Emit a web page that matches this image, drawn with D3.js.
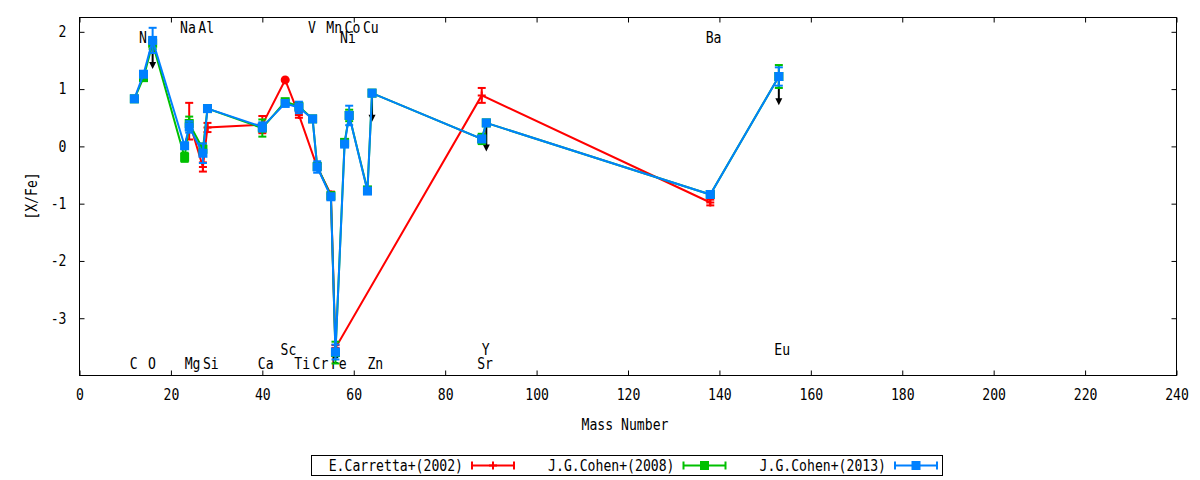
<!DOCTYPE html>
<html>
<head>
<meta charset="utf-8">
<script src="https://cdn.jsdelivr.net/npm/d3@7"></script>
<style>
  body { margin: 0; background: #fff; }
  svg text { font-family: "DejaVu Sans Mono", monospace; font-size: 15px; fill: #000; }
</style>
</head>
<body>
<div id="chart"></div>
<script>

// ---- data ----

// element labels: name, mass number, row value on the y axis
let labelNames  = ["C", "N", "O", "Na", "Mg", "Al", "Si", "Ca", "Sc", "Ti", "V", "Cr", "Mn", "Fe", "Ni", "Co", "Cu", "Zn", "Sr", "Y", "Ba", "Eu"];
let labelMasses = [12, 14, 16, 23, 24, 27, 28, 40, 45, 48, 51, 52, 55, 56, 58, 59, 63, 64, 88, 89, 138, 153];
let labelRows   = [-3.79, 1.9, -3.79, 2.07, -3.79, 2.07, -3.79, -3.79, -3.54, -3.79, 2.07, -3.79, 2.07, -3.79, 1.9, 2.07, 2.07, -3.79, -3.79, -3.54, 1.9, -3.54];

// E.Carretta+(2002)
let carrettaMass = [24, 27, 28, 40, 45, 48, 52, 55, 56, 88, 138];
let carrettaVal  = [0.44, -0.36, 0.33, 0.38, 1.16, 0.55, -0.36, -0.84, -3.52, 0.89, -0.98];
let carrettaErr  = [0.32, 0.08, 0.08, 0.15, 0, 0.05, 0.05, 0.05, 0.05, 0.13, 0.05];
let carrettaDots = [45];

// J.G.Cohen+(2008)
let cohen08Mass = [12, 14, 16, 23, 24, 27, 28, 40, 45, 48, 51, 52, 55, 56, 58, 59, 63, 64, 88, 89, 138, 153];
let cohen08Val  = [0.83, 1.2, 1.8, -0.19, 0.4, -0.05, 0.66, 0.32, 0.78, 0.7, 0.48, -0.35, -0.86, -3.6, 0.07, 0.54, -0.76, 0.93, 0.13, 0.41, -0.84, 1.22];
let cohen08Err  = [0.03, 0.05, 0.1, 0.08, 0.12, 0.1, 0.05, 0.15, 0.05, 0.05, 0.05, 0.05, 0.05, 0.19, 0.05, 0.1, 0.05, 0.05, 0.09, 0.05, 0.05, 0.2];

// J.G.Cohen+(2013)
let cohen13Mass = [12, 14, 16, 23, 24, 27, 28, 40, 45, 48, 51, 52, 55, 56, 58, 59, 63, 64, 88, 89, 138, 153];
let cohen13Val  = [0.83, 1.26, 1.85, 0.01, 0.34, -0.12, 0.66, 0.34, 0.75, 0.68, 0.48, -0.36, -0.88, -3.59, 0.04, 0.54, -0.78, 0.93, 0.13, 0.41, -0.84, 1.22];
let cohen13Err  = [0.03, 0.05, 0.22, 0.05, 0.1, 0.17, 0.05, 0.08, 0.05, 0.1, 0.05, 0.1, 0.05, 0.13, 0.05, 0.17, 0.05, 0.05, 0.05, 0.05, 0.05, 0.16];

// upper limits (arrows pointing down)
let limitMass = [16, 64, 89, 153];
let limitVal  = [1.85, 0.93, 0.41, 1.22];
let limitLen  = 0.5;

let seriesNames = ["E.Carretta+(2002)", "J.G.Cohen+(2008)", "J.G.Cohen+(2013)"];
let seriesColors = ["#ff0000", "#00c000", "#0080ff"];

let xTicks = [0, 20, 40, 60, 80, 100, 120, 140, 160, 180, 200, 220, 240];
let yTicks = [-3, -2, -1, 0, 1, 2];

// ---- layout ----

let W = 1200, H = 480;
let plot = {left: 79.5, top: 17.5, right: 1176.5, bottom: 375.5};
let charW = 7.9;

let svg = d3.select("#chart").append("svg")
    .attr("width", W)
    .attr("height", H);

let x = d3.scaleLinear().domain([0, 240]).range([plot.left, plot.right]);
let y = d3.scaleLinear().domain([-4, 2.25]).range([plot.bottom, plot.top]);

// squeeze text to gnuplot-ish narrow glyphs
function squeeze(sel) {
    sel.each(function() {
        let t = d3.select(this);
        let n = t.text().length;
        t.attr("textLength", n * charW).attr("lengthAdjust", "spacingAndGlyphs");
    });
}

function zip(m, v, e) {
    return m.map((d, i) => ({m: d, v: v[i], e: e ? e[i] : 0}));
}

// ---- axes ----

let xAxis = d3.axisBottom(x).tickValues(xTicks).tickSize(-5).tickPadding(14);
let yAxis = d3.axisLeft(y).tickValues(yTicks).tickSize(-5).tickPadding(13)
    .tickFormat(d3.format("d"));

let gx = svg.append("g").attr("transform", "translate(0," + plot.bottom + ")").call(xAxis);
let gy = svg.append("g").attr("transform", "translate(" + plot.left + ",0)").call(yAxis);
svg.append("g").attr("transform", "translate(0," + plot.top + ")")
    .call(d3.axisTop(x).tickValues(xTicks).tickSize(-5).tickFormat(""));
svg.append("g").attr("transform", "translate(" + plot.right + ",0)")
    .call(d3.axisRight(y).tickValues(yTicks).tickSize(-5).tickFormat(""));

svg.selectAll(".domain").remove();
svg.selectAll(".tick line").attr("stroke", "#000");
gx.selectAll("text").attr("font-family", null).attr("font-size", null).call(squeeze);
gy.selectAll("text").attr("font-family", null).attr("font-size", null)
    .text(d => d < 0 ? "-" + Math.abs(d) : d)
    .call(squeeze);

svg.append("rect")
    .attr("x", plot.left).attr("y", plot.top)
    .attr("width", plot.right - plot.left).attr("height", plot.bottom - plot.top)
    .attr("fill", "none").attr("stroke", "#000");

svg.append("text")
    .attr("x", 625).attr("y", 430)
    .attr("text-anchor", "middle")
    .text("Mass Number").call(squeeze);

svg.append("text")
    .attr("transform", "translate(37,196) rotate(-90)")
    .attr("text-anchor", "middle")
    .text("[X/Fe]").call(squeeze);

// ---- element labels ----

svg.append("g").selectAll("text")
    .data(labelNames)
    .join("text")
    .attr("x", (d, i) => x(labelMasses[i] - 1))
    .attr("y", (d, i) => y(labelRows[i]))
    .attr("dy", "0.36em")
    .text(d => d)
    .call(squeeze);

// ---- upper limit arrows ----

let limits = zip(limitMass, limitVal);
let ga = svg.append("g");
ga.selectAll("line").data(limits).join("line")
    .attr("x1", d => x(d.m)).attr("x2", d => x(d.m))
    .attr("y1", d => y(d.v)).attr("y2", d => y(d.v - limitLen) - 6)
    .attr("stroke", "#000").attr("stroke-width", 2);
ga.selectAll("path").data(limits).join("path")
    .attr("d", d => {
        let px = x(d.m), py = y(d.v - limitLen);
        return "M" + (px - 3.5) + "," + (py - 7) + "L" + (px + 3.5) + "," + (py - 7) + "L" + px + "," + py + "Z";
    })
    .attr("fill", "#000");

// ---- series ----

let line = d3.line().x(d => x(d.m)).y(d => y(d.v));

function drawSeries(data, color, marker) {
    let g = svg.append("g");

    g.append("path").datum(data)
        .attr("d", line)
        .attr("fill", "none")
        .attr("stroke", color)
        .attr("stroke-width", 2);

    let bars = data.filter(d => d.e > 0);
    g.selectAll(".bar").data(bars).join("line")
        .attr("x1", d => x(d.m)).attr("x2", d => x(d.m))
        .attr("y1", d => y(d.v - d.e)).attr("y2", d => y(d.v + d.e))
        .attr("stroke", color).attr("stroke-width", 2);
    ["lo", "hi"].forEach(k => {
        g.selectAll(".cap-" + k).data(bars).join("line")
            .attr("x1", d => x(d.m) - 4).attr("x2", d => x(d.m) + 4)
            .attr("y1", d => y(k == "lo" ? d.v - d.e : d.v + d.e))
            .attr("y2", d => y(k == "lo" ? d.v - d.e : d.v + d.e))
            .attr("stroke", color).attr("stroke-width", 2);
    });

    if (marker == "square") {
        g.selectAll("rect").data(data).join("rect")
            .attr("x", d => x(d.m) - 4.5).attr("y", d => y(d.v) - 4.5)
            .attr("width", 9).attr("height", 9)
            .attr("fill", color);
    } else {
        g.selectAll(".plus").data(data).join("path")
            .attr("d", d => {
                let px = x(d.m), py = y(d.v);
                return "M" + (px - 4) + "," + py + "H" + (px + 4) + "M" + px + "," + (py - 4) + "V" + (py + 4);
            })
            .attr("stroke", color).attr("stroke-width", 2);
    }
    return g;
}

let carretta = zip(carrettaMass, carrettaVal, carrettaErr);
let gRed = drawSeries(carretta, seriesColors[0], "plus");
gRed.selectAll("circle").data(carretta.filter(d => carrettaDots.includes(d.m))).join("circle")
    .attr("cx", d => x(d.m)).attr("cy", d => y(d.v))
    .attr("r", 4.5).attr("fill", seriesColors[0]);

drawSeries(zip(cohen08Mass, cohen08Val, cohen08Err), seriesColors[1], "square");
drawSeries(zip(cohen13Mass, cohen13Val, cohen13Err), seriesColors[2], "square");

// ---- legend ----

let legend = svg.append("g");
legend.append("rect")
    .attr("x", 311.5).attr("y", 455.5)
    .attr("width", 631).attr("height", 20)
    .attr("fill", "none").attr("stroke", "#000");

seriesNames.forEach((name, i) => {
    let textEnd = 463 + i * 211.5;
    let x0 = textEnd + 9, x1 = textEnd + 51, cy = 465.5;
    let c = seriesColors[i];
    legend.append("text")
        .attr("x", textEnd).attr("y", cy).attr("dy", "0.36em")
        .attr("text-anchor", "end")
        .text(name).call(squeeze);
    legend.append("line").attr("x1", x0).attr("x2", x1).attr("y1", cy).attr("y2", cy)
        .attr("stroke", c).attr("stroke-width", 2);
    [x0, x1].forEach(cx => {
        legend.append("line").attr("x1", cx).attr("x2", cx).attr("y1", cy - 4).attr("y2", cy + 4)
            .attr("stroke", c).attr("stroke-width", 2);
    });
    let mx = (x0 + x1) / 2;
    if (i == 0) {
        legend.append("path")
            .attr("d", "M" + (mx - 4) + "," + cy + "H" + (mx + 4) + "M" + mx + "," + (cy - 4) + "V" + (cy + 4))
            .attr("stroke", c).attr("stroke-width", 2);
    } else {
        legend.append("rect").attr("x", mx - 4.5).attr("y", cy - 4.5)
            .attr("width", 9).attr("height", 9).attr("fill", c);
    }
});

</script>
</body>
</html>
